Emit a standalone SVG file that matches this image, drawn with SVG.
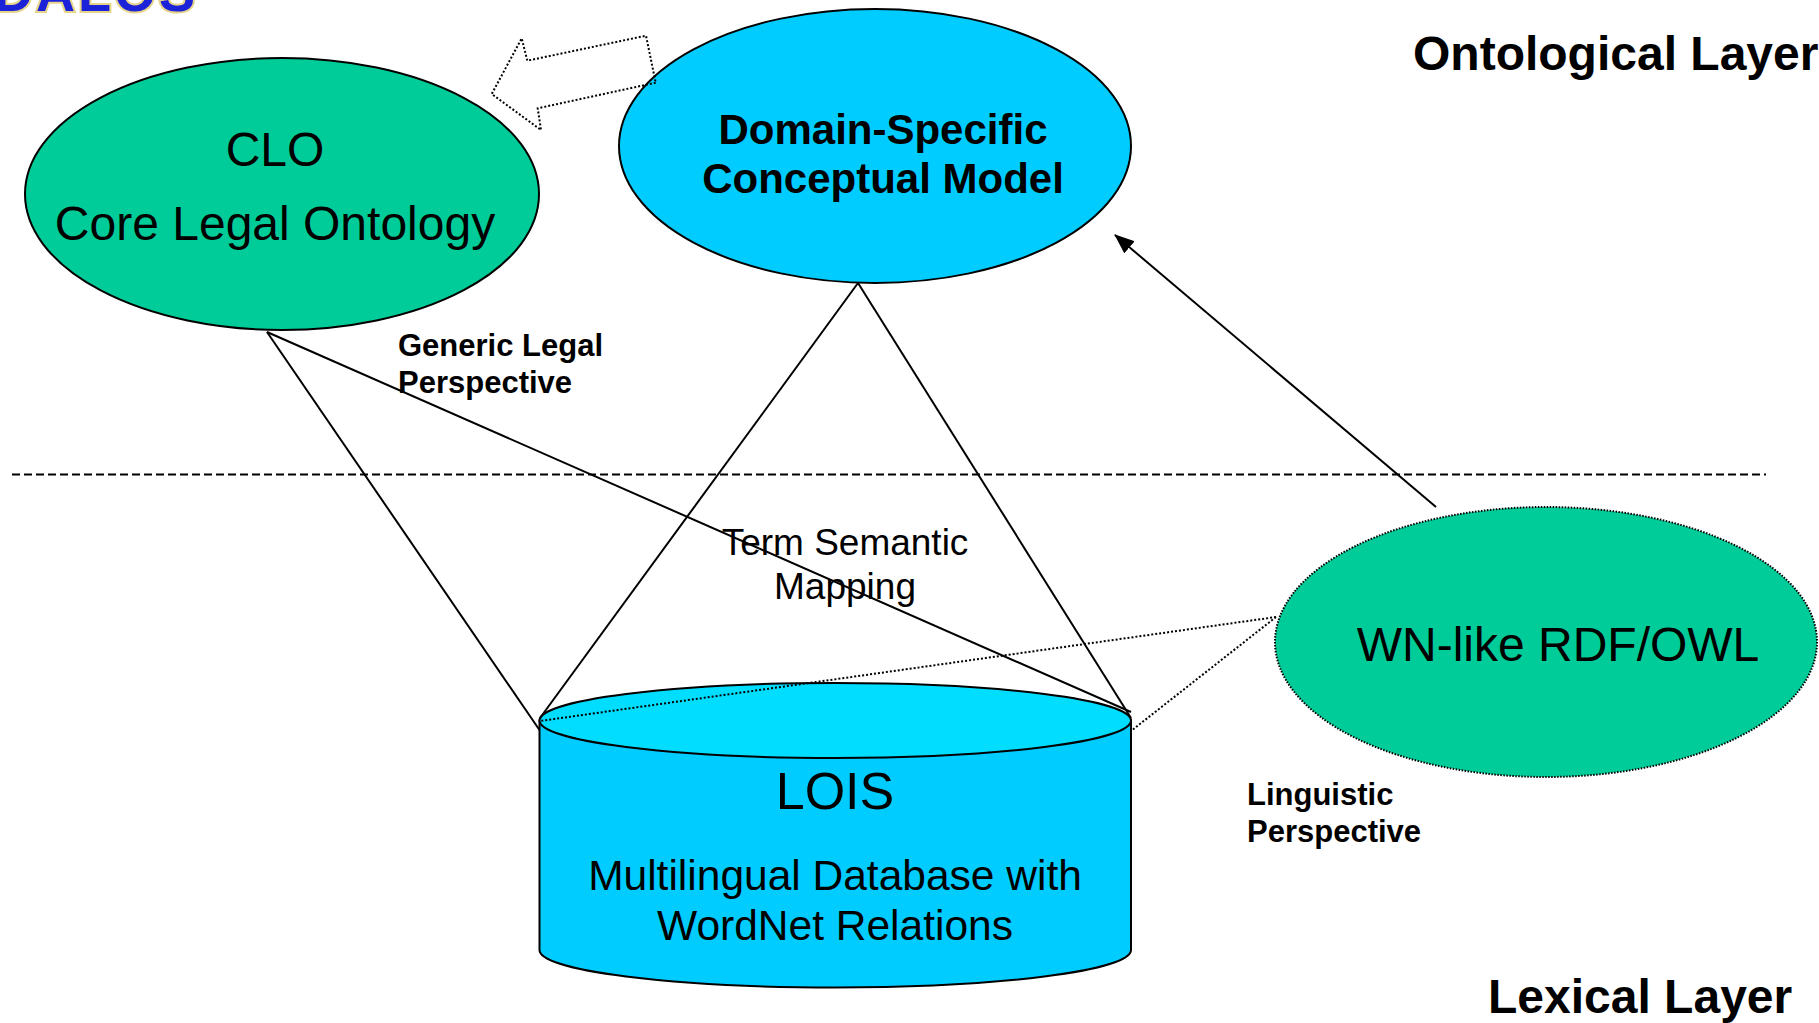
<svg xmlns="http://www.w3.org/2000/svg" width="1819" height="1023" viewBox="0 0 1819 1023">
<style>
.t{font-family:"Liberation Sans",Arial,sans-serif;fill:#000}
.b{font-weight:bold}
.ln{stroke:#000;stroke-width:2;fill:none}
.dot{stroke:#000;stroke-width:2;fill:none;stroke-dasharray:2 2}
.node{stroke:#000;stroke-width:2}
</style>
<defs>
<marker id="ah" markerWidth="20" markerHeight="16" refX="19" refY="8" orient="auto" markerUnits="userSpaceOnUse">
<path d="M0,0 L20,8 L0,16 Z" fill="#000"/>
</marker>
</defs>
<rect width="1819" height="1023" fill="#fff"/>
<g id="logo">
<text x="-6" y="11" class="t b" font-size="54" style="fill:#1c22d8;stroke:#e6d48a;stroke-width:4;paint-order:stroke;letter-spacing:3px">DALOS</text>
</g>
<g id="layer-divider">
<line x1="12" y1="474.5" x2="1766" y2="474.5" stroke="#000" stroke-width="2" stroke-dasharray="8 4"/>
</g>
<g id="clo">
<ellipse cx="282" cy="194" rx="257" ry="136" fill="#00CC99" class="node"/>
<text x="275" y="166" class="t" font-size="48" text-anchor="middle">CLO</text>
<text x="275" y="240" class="t" font-size="48" text-anchor="middle">Core Legal Ontology</text>
</g>
<g id="domain">
<ellipse cx="875" cy="146" rx="256" ry="137" fill="#00CCFF" class="node"/>
<text x="883" y="144" class="t b" font-size="42" text-anchor="middle">Domain-Specific</text>
<text x="883" y="193" class="t b" font-size="42" text-anchor="middle">Conceptual Model</text>
</g>
<g id="wn">
<ellipse cx="1546" cy="642" rx="271" ry="135" fill="#00CC99" stroke="#000" stroke-width="2" stroke-dasharray="1.5 1.5"/>
<text x="1558" y="661" class="t" font-size="48" text-anchor="middle">WN-like RDF/OWL</text>
</g>
<g id="lois">
<path d="M539.5,720.5 L539.5,950 A295.75,37.5 0 0 0 1131,950 L1131,720.5 Z" fill="#00CCFF" class="node"/>
<ellipse cx="835.25" cy="720.5" rx="295.75" ry="37.5" fill="#00DDFF" class="node"/>
<text x="835" y="809" class="t" font-size="52" text-anchor="middle">LOIS</text>
<text x="835" y="890" class="t" font-size="42.5" text-anchor="middle">Multilingual Database with</text>
<text x="835" y="940" class="t" font-size="42.5" text-anchor="middle">WordNet Relations</text>
</g>
<g id="connectors">
<line class="ln" x1="267" y1="332" x2="539.5" y2="730"/>
<line class="ln" x1="267" y1="332" x2="1131" y2="712"/>
<line class="ln" x1="858" y1="283" x2="540" y2="718"/>
<line class="ln" x1="858" y1="283" x2="1131" y2="718"/>
<line class="dot" x1="1276" y1="617" x2="540" y2="721"/>
<line class="dot" x1="1276" y1="617" x2="1131" y2="731"/>
<line class="ln" x1="1436" y1="507" x2="1115" y2="235" marker-end="url(#ah)"/>
<path class="dot" d="M655.7,82.7 L537.7,108.3 L541,130 L491.7,94 L521.7,38.3 L527.3,60.7 L646,35.7 Z" fill="#fff"/>
</g>
<g id="labels">
<text x="398" y="356" class="t b" font-size="31">Generic Legal</text>
<text x="398" y="393" class="t b" font-size="31">Perspective</text>
<text x="1247" y="805" class="t b" font-size="31">Linguistic</text>
<text x="1247" y="842" class="t b" font-size="31">Perspective</text>
<text x="845" y="555" class="t" font-size="37" text-anchor="middle">Term Semantic</text>
<text x="845" y="599" class="t" font-size="37" text-anchor="middle">Mapping</text>
<text x="1413" y="70" class="t b" font-size="48">Ontological Layer</text>
<text x="1488" y="1013" class="t b" font-size="48">Lexical Layer</text>
</g>
</svg>
